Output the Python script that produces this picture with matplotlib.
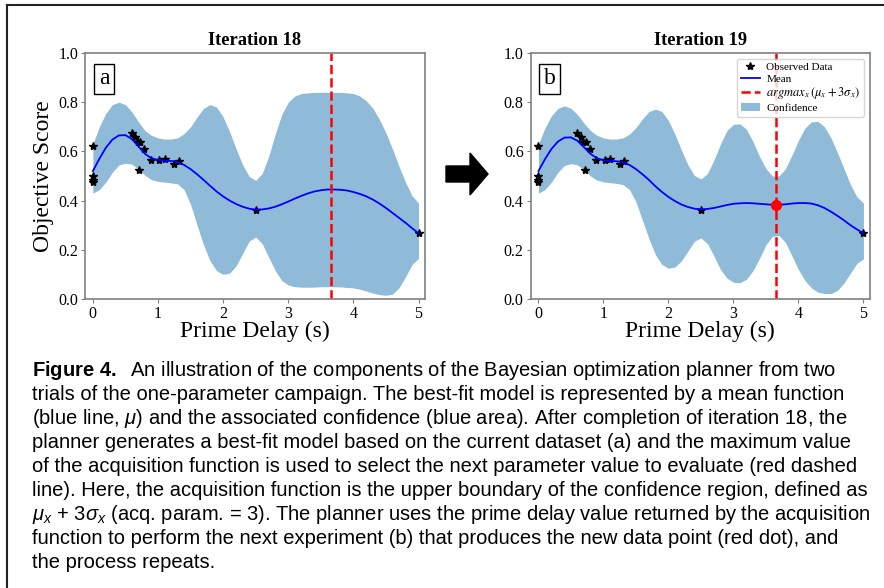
import matplotlib
matplotlib.use('Agg')
import matplotlib.pyplot as plt
from matplotlib.lines import Line2D
from matplotlib.patches import Polygon

# grid of prime delay values (s) at which the model curves were read
x_grid = [i / 10 for i in range(51)]

# iteration 18 model
mean_a = [0.520, 0.570, 0.615, 0.648, 0.665, 0.666, 0.650, 0.620, 0.590, 0.572,
          0.565, 0.562, 0.561, 0.557, 0.545, 0.528, 0.507, 0.484, 0.460, 0.437,
          0.417, 0.400, 0.386, 0.375, 0.367, 0.363, 0.364, 0.368, 0.375, 0.385,
          0.396, 0.408, 0.419, 0.429, 0.437, 0.442, 0.445, 0.445, 0.444, 0.441,
          0.435, 0.427, 0.417, 0.404, 0.388, 0.370, 0.350, 0.330, 0.310, 0.288,
          0.267]
upper_a = [0.630, 0.700, 0.755, 0.790, 0.800, 0.790, 0.760, 0.720, 0.685, 0.665,
           0.655, 0.650, 0.650, 0.655, 0.672, 0.700, 0.740, 0.775, 0.790, 0.780,
           0.740, 0.680, 0.610, 0.545, 0.498, 0.482, 0.510, 0.580, 0.670, 0.750,
           0.800, 0.825, 0.835, 0.838, 0.840, 0.840, 0.840, 0.840, 0.840, 0.838,
           0.835, 0.825, 0.805, 0.775, 0.730, 0.675, 0.610, 0.540, 0.475, 0.420,
           0.390]
lower_a = [0.430, 0.445, 0.475, 0.515, 0.545, 0.552, 0.548, 0.528, 0.503, 0.485,
           0.478, 0.475, 0.472, 0.468, 0.445, 0.385, 0.300, 0.220, 0.155, 0.115,
           0.100, 0.105, 0.135, 0.185, 0.235, 0.252, 0.225, 0.170, 0.115, 0.075,
           0.057, 0.050, 0.048, 0.048, 0.048, 0.050, 0.050, 0.050, 0.049, 0.047,
           0.045, 0.040, 0.032, 0.024, 0.018, 0.015, 0.020, 0.045, 0.090, 0.140,
           0.165]

# iteration 19 model
mean_b = [0.520, 0.568, 0.610, 0.640, 0.656, 0.657, 0.643, 0.617, 0.590, 0.572,
          0.564, 0.561, 0.560, 0.556, 0.545, 0.528, 0.507, 0.484, 0.458, 0.435,
          0.415, 0.398, 0.384, 0.374, 0.367, 0.365, 0.366, 0.370, 0.376, 0.382,
          0.387, 0.389, 0.390, 0.389, 0.387, 0.385, 0.383, 0.383, 0.385, 0.388,
          0.390, 0.390, 0.388, 0.381, 0.370, 0.355, 0.338, 0.320, 0.300, 0.283,
          0.267]
upper_b = [0.630, 0.695, 0.745, 0.775, 0.785, 0.775, 0.750, 0.715, 0.685, 0.665,
           0.655, 0.650, 0.650, 0.655, 0.670, 0.697, 0.732, 0.762, 0.772, 0.762,
           0.725, 0.670, 0.605, 0.545, 0.502, 0.488, 0.510, 0.565, 0.630, 0.685,
           0.710, 0.712, 0.690, 0.640, 0.580, 0.530, 0.500, 0.500, 0.530, 0.585,
           0.645, 0.695, 0.720, 0.722, 0.700, 0.655, 0.595, 0.530, 0.465, 0.415,
           0.390]
lower_b = [0.430, 0.445, 0.475, 0.515, 0.543, 0.550, 0.545, 0.525, 0.500, 0.483,
           0.476, 0.473, 0.470, 0.465, 0.445, 0.395, 0.320, 0.245, 0.180, 0.140,
           0.125, 0.130, 0.155, 0.195, 0.235, 0.248, 0.225, 0.175, 0.120, 0.085,
           0.068, 0.066, 0.080, 0.115, 0.165, 0.220, 0.255, 0.258, 0.230, 0.175,
           0.120, 0.075, 0.045, 0.028, 0.022, 0.022, 0.035, 0.065, 0.105, 0.145,
           0.163]

# observed experiments
obs_x = [0, 0, 0, 0, 0.60, 0.65, 0.69, 0.73, 0.71, 0.79, 0.89, 1.02, 1.10, 1.25, 1.32, 2.50, 5.00]
obs_y = [0.62, 0.50, 0.485, 0.475, 0.675, 0.66, 0.64, 0.64, 0.523, 0.61, 0.563, 0.566, 0.568,
         0.549, 0.562, 0.363, 0.267]

next_x = 3.66
new_point_y = 0.383

caption = [
    r"$\bf{Figure\ 4.}$  An illustration of the components of the Bayesian optimization planner from two",
    "trials of the one-parameter campaign. The best-fit model is represented by a mean function",
    r"(blue line, $\mu$) and the associated confidence (blue area). After completion of iteration 18, the",
    "planner generates a best-fit model based on the current dataset (a) and the maximum value",
    "of the acquisition function is used to select the next parameter value to evaluate (red dashed",
    "line). Here, the acquisition function is the upper boundary of the confidence region, defined as",
    r"$\mu_x$ + 3$\sigma_x$ (acq. param. = 3). The planner uses the prime delay value returned by the acquisition",
    "function to perform the next experiment (b) that produces the new data point (red dot), and",
    "the process repeats.",
]

plt.rcParams['font.family'] = 'Liberation Serif'
plt.rcParams['mathtext.fontset'] = 'custom'
plt.rcParams['mathtext.rm'] = 'Liberation Sans'
plt.rcParams['mathtext.it'] = 'Liberation Sans:italic'
plt.rcParams['mathtext.bf'] = 'Liberation Sans:bold'

fig = plt.figure(figsize=(8.84, 5.88), dpi=100)
ax_a = fig.add_axes([0.0962, 0.4915, 0.3846, 0.4184])
ax_b = fig.add_axes([0.6003, 0.4915, 0.3838, 0.4184])

band_color = '#8fbbd9'
for ax, mu, up, lo, title, tag in [(ax_a, mean_a, upper_a, lower_a, 'Iteration 18', 'a'),
                                    (ax_b, mean_b, upper_b, lower_b, 'Iteration 19', 'b')]:
    ax.fill_between(x_grid, lo, up, color=band_color, linewidth=0, label='Confidence')
    ax.plot(obs_x, obs_y, '*', color='black', markersize=6, label='Observed Data')
    ax.plot(x_grid, mu, color='blue', linewidth=1.3, label='Mean')
    ax.axvline(next_x, color='red', linestyle='--', linewidth=1.8,
               label=r'$argmax_x\,(\mu_x + 3\sigma_x)$')
    ax.set_xlim(-0.12, 5.1)
    ax.set_ylim(0, 1)
    ax.set_xticks([0, 1, 2, 3, 4, 5])
    ax.set_yticks([0, 0.2, 0.4, 0.6, 0.8, 1.0])
    ax.set_yticklabels(['0.0', '0.2', '0.4', '0.6', '0.8', '1.0'])
    ax.tick_params(labelsize=11.5, color='#808080', length=3, pad=2)
    for sp in ax.spines.values():
        sp.set_color('#808080')
        sp.set_linewidth(1.2)
    ax.set_title(title, fontsize=13.3, fontweight='bold')
    ax.set_xlabel('Prime Delay (s)', fontsize=17, labelpad=-1)
    ax.text(0.056, 0.895, tag, transform=ax.transAxes, fontsize=17, ha='center', va='center',
            bbox=dict(boxstyle='square,pad=0.2', facecolor='white', edgecolor='black', linewidth=1))

ax_a.set_ylabel('Objective Score', fontsize=17, labelpad=3)
ax_b.plot([next_x], [new_point_y], 'o', color='red', markersize=7, zorder=5)

handles, labels = ax_b.get_legend_handles_labels()
order = [1, 2, 3, 0]
leg = ax_b.legend([handles[i] for i in order], [labels[i] for i in order], loc='upper right',
                  fontsize=8, numpoints=1, handlelength=1.7, handletextpad=0.6,
                  labelspacing=0.15, borderpad=0.35)
leg.get_texts()[2].set_math_fontfamily('stix')
leg.get_texts()[2].set_fontsize(9)

# arrow between the panels
W, H = 884.0, 588.0
arrow_px = [(446, 166), (470, 166), (470, 153), (488, 174), (470, 195), (470, 182), (446, 182)]
fig.add_artist(Polygon([(px / W, 1 - py / H) for px, py in arrow_px], closed=True,
                       facecolor='black', edgecolor='black', transform=fig.transFigure))

# frame around the figure
fig.add_artist(Line2D([7 / W, 7 / W], [0, 1 - 5 / H], color='#222222', linewidth=1.5))
fig.add_artist(Line2D([7 / W, 883 / W], [1 - 5 / H, 1 - 5 / H], color='#222222', linewidth=1.5))

for i, line in enumerate(caption):
    fig.text(32 / W, 1 - (376 + 24 * i) / H, line, fontsize=14.5, family='Liberation Sans',
             ha='left', va='baseline')

fig.savefig('out.png', dpi=100)
